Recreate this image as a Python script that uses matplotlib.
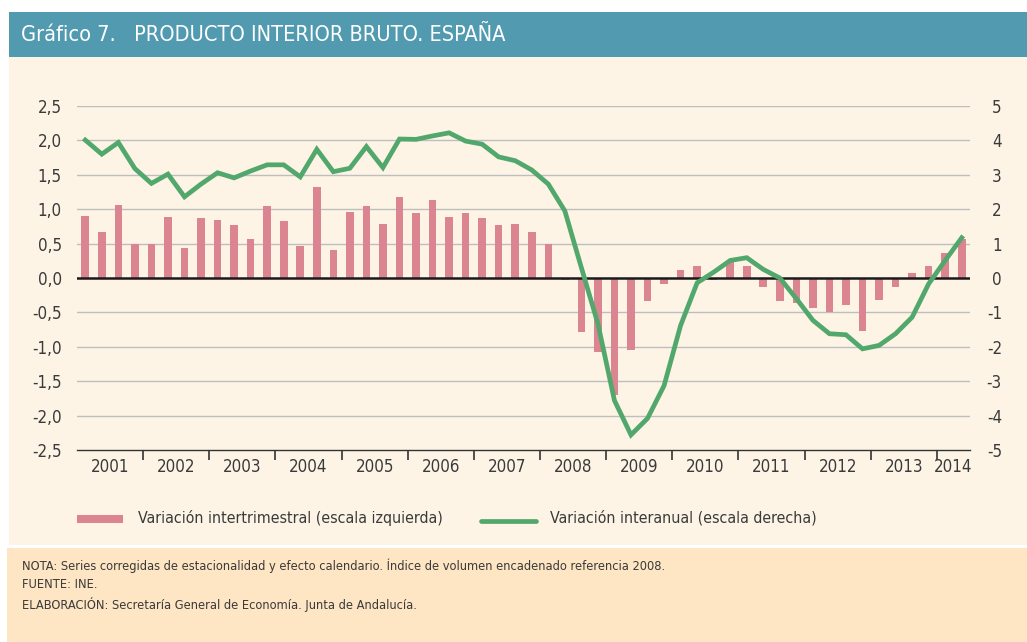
import matplotlib
matplotlib.use("Agg")
import matplotlib.pyplot as plt
import numpy as np
from matplotlib.patches import Rectangle
from matplotlib.lines import Line2D

plt.rcParams["font.family"] = ["DejaVu Sans"]
plt.rcParams["font.stretch"] = "condensed"

# --- data: 2001 Q1 .. 2014 Q2 ---
years = ["2001", "2002", "2003", "2004", "2005", "2006", "2007",
         "2008", "2009", "2010", "2011", "2012", "2013", "2014"]
qoq = [0.90, 0.67, 1.06, 0.50,
       0.50, 0.88, 0.43, 0.87,
       0.85, 0.77, 0.56, 1.04,
       0.83, 0.47, 1.32, 0.40,
       0.96, 1.04, 0.78, 1.18,
       0.94, 1.13, 0.88, 0.94,
       0.87, 0.77, 0.78, 0.67,
       0.50, -0.03, -0.79, -1.07,
       -1.70, -1.05, -0.33, -0.09,
       0.11, 0.18, -0.03, 0.23,
       0.18, -0.13, -0.33, -0.37,
       -0.44, -0.49, -0.39, -0.77,
       -0.32, -0.13, 0.07, 0.17,
       0.36, 0.56]
yoy = [4.01, 3.60, 3.94, 3.18,
       2.75, 3.02, 2.36, 2.73,
       3.06, 2.91, 3.11, 3.29,
       3.29, 2.94, 3.74, 3.09,
       3.19, 3.82, 3.21, 4.04,
       4.03, 4.13, 4.22, 3.98,
       3.89, 3.52, 3.41, 3.14,
       2.73, 1.95, 0.30, -1.33,
       -3.56, -4.56, -4.08, -3.13,
       -1.38, -0.14, 0.17, 0.51,
       0.59, 0.25, 0.00, -0.60,
       -1.23, -1.62, -1.65, -2.06,
       -1.96, -1.62, -1.14, -0.17,
       0.51, 1.17]
left_ticks = [2.5, 2.0, 1.5, 1.0, 0.5, 0.0, -0.5, -1.0, -1.5, -2.0, -2.5]
right_ticks = [5, 4, 3, 2, 1, 0, -1, -2, -3, -4, -5]

BAR_C = "#DA8590"
LINE_C = "#52A86C"
CREAM = "#FDF4E6"
NOTE_BG = "#FEE5C3"
HEAD_C = "#519AB0"
TXT = "#3a3a3a"
GRID_C = "#BEBEBE"

W, H = 1027, 642
fig = plt.figure(figsize=(W / 100, H / 100), dpi=100)
fig.patch.set_facecolor("white")


def fbox(x0, y0, x1, y1, color):
    # rectangle in pixel coords (top-left origin)
    fig.add_artist(Rectangle((x0 / W, 1 - y1 / H), (x1 - x0) / W, (y1 - y0) / H,
                             transform=fig.transFigure, facecolor=color,
                             edgecolor="none", zorder=0))


fbox(9, 12, W, 57, HEAD_C)
fbox(9, 57, W, 545, CREAM)
fbox(7, 548, W, H, NOTE_BG)

fig.text(21 / W, 1 - 35 / H, "Gráfico 7.   PRODUCTO INTERIOR BRUTO. ESPAÑA",
         color="white", fontsize=15.6, va="center", ha="left")

# --- axes ---
ax_l, ax_r, ax_t, ax_b = 77, 970, 106, 450
ax = fig.add_axes([ax_l / W, 1 - ax_b / H, (ax_r - ax_l) / W, (ax_b - ax_t) / H])
ax.set_facecolor("none")
x = np.arange(len(qoq))
ax.set_xlim(-0.5, len(qoq) - 0.5)
ax.set_ylim(-2.5, 2.5)

for v in left_ticks:
    if v in (0.0, -2.5):
        continue
    ax.axhline(v, color=GRID_C, lw=1.0, zorder=1)
ax.bar(x, qoq, width=0.46, color=BAR_C, zorder=2)
ax.axhline(0, color="#1a1a1a", lw=1.8, zorder=3)

for s in ("top", "left", "right"):
    ax.spines[s].set_visible(False)
ax.spines["bottom"].set_color("#333333")
ax.spines["bottom"].set_linewidth(1.0)

ax.set_yticks(left_ticks)
ax.set_yticklabels([f"{v:.1f}".replace(".", ",") for v in left_ticks],
                   fontsize=12.2, color=TXT)
ax.tick_params(axis="y", length=0, pad=11)

bounds = [4 * k - 0.5 for k in range(1, 14)]
ax.set_xticks(bounds)
ax.set_xticklabels([])
ax.tick_params(axis="x", length=7, width=1.2, color="#333333", direction="out")
centers = [min(4 * k + 1.5, (4 * k - 0.5 + len(qoq) - 0.5) / 2) for k in range(len(years))]
for c, lab in zip(centers, years):
    ax.text(c, -2.62, lab, ha="center", va="top", fontsize=12.2, color=TXT)

ax2 = ax.twinx()
ax2.set_ylim(-5, 5)
ax2.plot(x, yoy, color=LINE_C, lw=3.4, solid_joinstyle="miter", zorder=4)
for s in ("top", "left", "right", "bottom"):
    ax2.spines[s].set_visible(False)
ax2.set_yticks(right_ticks)
ax2.set_yticklabels([str(v) for v in right_ticks], fontsize=12.2, color=TXT,
                    ha="right")
ax2.tick_params(axis="y", length=0, pad=23)

# --- legend ---
ly = 518
fbox(77, 515, 123, 523, BAR_C)
fig.text(138 / W, 1 - ly / H, "Variación intertrimestral (escala izquierda)",
         fontsize=11.4, color=TXT, va="center", ha="left")
fig.add_artist(Line2D([481 / W, 536 / W], [1 - 521 / H, 1 - 521 / H],
                      transform=fig.transFigure, color=LINE_C, lw=3.4,
                      solid_capstyle="round"))
fig.text(550 / W, 1 - ly / H, "Variación interanual (escala derecha)",
         fontsize=11.4, color=TXT, va="center", ha="left")

# --- notes ---
notes = [
    "NOTA: Series corregidas de estacionalidad y efecto calendario. Índice de volumen encadenado referencia 2008.",
    "FUENTE: INE.",
    "ELABORACIÓN: Secretaría General de Economía. Junta de Andalucía.",
]
for i, t in enumerate(notes):
    fig.text(22 / W, 1 - (566 + 19 * i) / H, t, fontsize=9.2, color=TXT,
             va="center", ha="left")

fig.savefig("out.png", dpi=100, facecolor=fig.get_facecolor())
